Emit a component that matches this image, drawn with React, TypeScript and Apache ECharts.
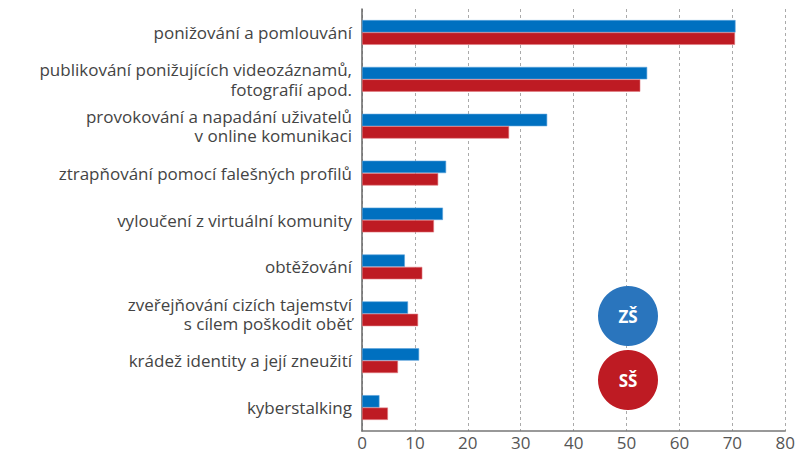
import React, { useEffect, useRef } from "react";
import * as echarts from "echarts";

const categories = [
  "ponižování a pomlouvání",
  "publikování ponižujících videozáznamů,\nfotografií apod.",
  "provokování a napadání uživatelů\nv online komunikaci",
  "ztrapňování pomocí falešných profilů",
  "vyloučení z virtuální komunity",
  "obtěžování",
  "zveřejňování cizích tajemství\ns cílem poškodit oběť",
  "krádež identity a její zneužití",
  "kyberstalking",
];
const zsValues = [70.6, 53.9, 35.0, 15.9, 15.3, 8.1, 8.7, 10.8, 3.3];
const ssValues = [70.5, 52.6, 27.8, 14.4, 13.6, 11.4, 10.6, 6.8, 4.9];
const seriesNames = ["ZŠ", "SŠ"];

const FONT = "'Open Sans', sans-serif";

export default function App() {
  const ref = useRef<HTMLDivElement>(null);
  useEffect(() => {
    if (!ref.current) return;
    const chart = echarts.init(ref.current, undefined, { renderer: "svg" });
    chart.setOption({
      animation: false,
      grid: { left: 362, right: 10, top: 9, bottom: 22, containLabel: false },
      xAxis: {
        type: "value",
        min: 0,
        max: 80,
        interval: 10,
        axisLine: { show: true, lineStyle: { color: "#777", width: 1.5 } },
        axisTick: { show: false },
        axisLabel: { color: "#555", fontSize: 17, fontFamily: FONT, margin: 3 },
        splitLine: { show: true, lineStyle: { color: "#aaa", type: [3, 3], width: 1 } },
      },
      yAxis: {
        type: "category",
        inverse: true,
        data: categories,
        axisLine: { show: true, lineStyle: { color: "#666", width: 1.5 } },
        axisTick: { show: false },
        axisLabel: {
          color: "#444",
          fontSize: 17,
          fontFamily: FONT,
          lineHeight: 19.5,
          align: "right",
          margin: 10,
        },
      },
      series: [
        {
          name: seriesNames[0],
          type: "bar",
          data: zsValues,
          barWidth: 12.4,
          barGap: "0%",
          itemStyle: { color: "#0070c0", borderColor: "#5aa3db", borderWidth: 0.6 },
        },
        {
          name: seriesNames[1],
          type: "bar",
          data: ssValues,
          barWidth: 12.4,
          barGap: "0%",
          itemStyle: { color: "#be1b23", borderColor: "#e07a7f", borderWidth: 0.6 },
        },
      ],
      graphic: [
        {
          type: "circle",
          shape: { cx: 628, cy: 316, r: 30 },
          style: { fill: "#2a75bd" },
          z: 10,
        },
        {
          type: "text",
          x: 628,
          y: 316,
          style: {
            text: seriesNames[0],
            fill: "#fff",
            fontSize: 17,
            fontWeight: "bold",
            fontFamily: FONT,
            align: "center",
            verticalAlign: "middle",
          },
          z: 11,
        },
        {
          type: "circle",
          shape: { cx: 628, cy: 380, r: 30 },
          style: { fill: "#be1b23" },
          z: 10,
        },
        {
          type: "text",
          x: 628,
          y: 380,
          style: {
            text: seriesNames[1],
            fill: "#fff",
            fontSize: 17,
            fontWeight: "bold",
            fontFamily: FONT,
            align: "center",
            verticalAlign: "middle",
          },
          z: 11,
        },
      ],
    });
    return () => chart.dispose();
  }, []);
  return <div ref={ref} style={{ width: 798, height: 453, position: "absolute", left: 0, top: 0 }} />;
}
